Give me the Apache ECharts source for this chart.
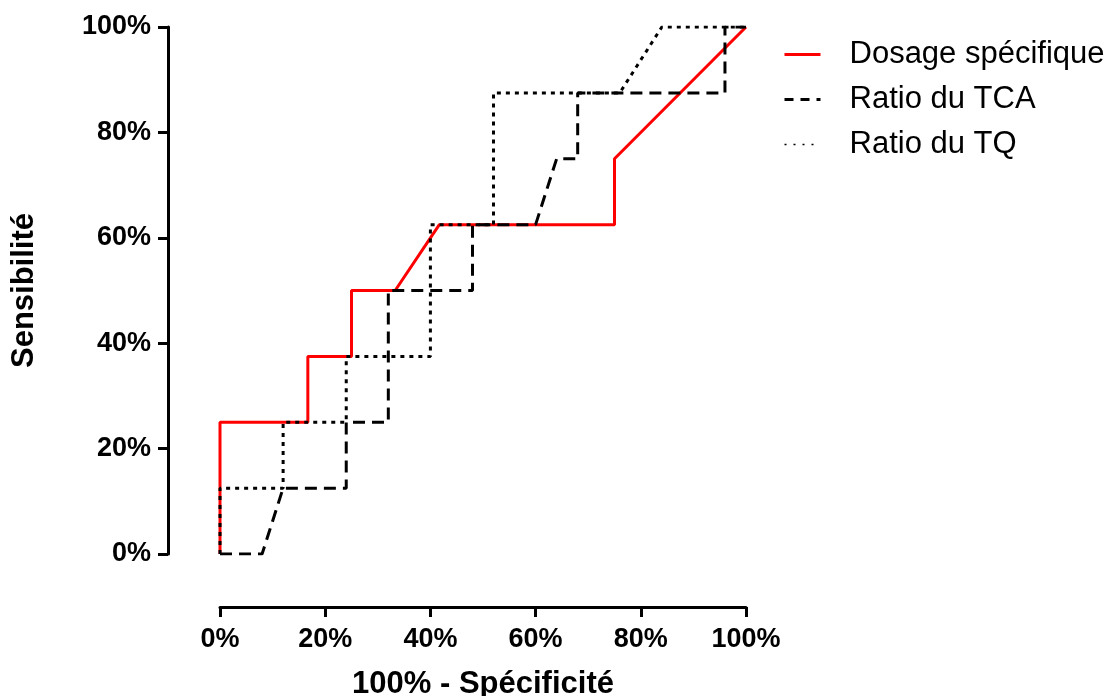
<!DOCTYPE html>
<html>
<head>
<meta charset="utf-8">
<script src="https://cdn.jsdelivr.net/npm/echarts@6/dist/echarts.min.js"></script>
<style>
  html, body { margin: 0; padding: 0; background: #fff; }
  #chart { width: 1114px; height: 696px; }
</style>
</head>
<body>
<div id="chart"></div>
<script>
// ROC curves: x = 100% - specificity, y = sensitivity (both in %)
const seriesNames = ['Dosage spécifique', 'Ratio du TCA', 'Ratio du TQ'];

const dosageX = [0, 0, 16.7, 16.7, 25, 25, 33.3, 41.7, 75, 75, 100];
const dosageY = [0, 25, 25, 37.5, 37.5, 50, 50, 62.5, 62.5, 75, 100];

const tcaX = [0, 8, 12, 24, 24, 32, 32, 48, 48, 60, 64, 68, 68, 96, 96, 100];
const tcaY = [0, 0, 12.5, 12.5, 25, 25, 50, 50, 62.5, 62.5, 75, 75, 87.5, 87.5, 100, 100];

const tqX = [0, 0, 12, 12, 24, 24, 40, 40, 52, 52, 76, 84, 100];
const tqY = [0, 12.5, 12.5, 25, 25, 37.5, 37.5, 62.5, 62.5, 87.5, 87.5, 100, 100];

const axisTicks = [0, 20, 40, 60, 80, 100];

const pairs = (xs, ys) => xs.map((x, i) => [x, ys[i]]);

const FONT = 'Arial, "Liberation Sans", sans-serif';

const chart = echarts.init(document.getElementById('chart'), null, { renderer: 'canvas' });

const axisCommon = {
  type: 'value',
  min: axisTicks[0],
  max: axisTicks[axisTicks.length - 1],
  interval: axisTicks[1] - axisTicks[0],
  splitLine: { show: false },
  axisLine: { show: true, onZero: false, lineStyle: { color: '#000', width: 3 } },
  axisTick: { show: true, length: 10, lineStyle: { color: '#000', width: 3 } },
  axisLabel: {
    formatter: '{value}%',
    color: '#000',
    fontFamily: FONT,
    fontWeight: 'bold',
    fontSize: 27
  },
  nameLocation: 'middle',
  nameTextStyle: { color: '#000', fontFamily: FONT, fontWeight: 'bold', fontSize: 31 }
};

chart.setOption({
  animation: false,
  backgroundColor: '#fff',
  grid: { left: 220, right: 368, top: 27, bottom: 142, containLabel: false, outerBoundsMode: 'none' },
  xAxis: Object.assign({}, axisCommon, {
    offset: 53,
    name: '100% - Spécificité',
    nameGap: 62,
    axisLabel: Object.assign({}, axisCommon.axisLabel, { margin: 19 })
  }),
  yAxis: Object.assign({}, axisCommon, {
    offset: 52,
    name: 'Sensibilité',
    nameGap: 128,
    axisLabel: Object.assign({}, axisCommon.axisLabel, { margin: 17 })
  }),
  legend: {
    orient: 'vertical',
    left: 783,
    top: 39,
    padding: 0,
    itemWidth: 36,
    itemHeight: 14,
    itemGap: 14,
    itemStyle: { opacity: 0 },
    textStyle: { color: '#000', fontFamily: FONT, fontSize: 31, padding: [0, 0, 0, 24] },
    data: [
      { name: seriesNames[0], lineStyle: { width: 3 } },
      { name: seriesNames[1], lineStyle: { width: 3, type: [9, 7] } },
      { name: seriesNames[2], lineStyle: { width: 1.5, type: [2, 7] } }
    ]
  },
  series: [
    {
      name: seriesNames[0],
      type: 'line',
      data: pairs(dosageX, dosageY),
      showSymbol: false,
      symbol: 'none',
      lineStyle: { color: '#ff0000', width: 3 },
      itemStyle: { color: '#ff0000' },
      z: 2
    },
    {
      name: seriesNames[1],
      type: 'line',
      data: pairs(tcaX, tcaY),
      showSymbol: false,
      symbol: 'none',
      lineStyle: { color: '#000', width: 3, type: [12, 7] },
      itemStyle: { color: '#000' },
      z: 3
    },
    {
      name: seriesNames[2],
      type: 'line',
      data: pairs(tqX, tqY),
      showSymbol: false,
      symbol: 'none',
      lineStyle: { color: '#000', width: 3, type: [4, 5] },
      itemStyle: { color: '#000' },
      z: 4
    }
  ]
});
</script>
</body>
</html>
